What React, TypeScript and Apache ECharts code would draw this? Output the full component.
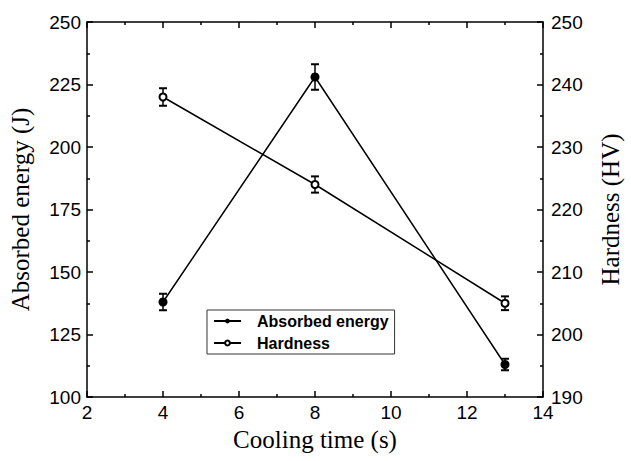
import React, { useEffect, useRef } from "react";
import * as echarts from "echarts";

const coolingTime = [4, 8, 13];
const absorbedEnergy = [138, 228, 113];
const absorbedErr = [3.3, 5.1, 2.3];
const hardness = [238, 224, 205];
const hardnessErr = [1.4, 1.3, 1.1];
const xTicks = { min: 2, max: 14, interval: 2 };
const yLeftTicks = { min: 100, max: 250, interval: 25 };
const yRightTicks = { min: 190, max: 250, interval: 10 };

const errorRender = (params: any, api: any) => {
  const x = api.value(0);
  const y = api.value(1);
  const e = api.value(2);
  const top = api.coord([x, y + e]);
  const bot = api.coord([x, y - e]);
  const w = 4;
  const st = { stroke: "#000", lineWidth: 1.5 };
  return {
    type: "group",
    children: [
      { type: "line", shape: { x1: top[0], y1: top[1], x2: bot[0], y2: bot[1] }, style: st },
      { type: "line", shape: { x1: top[0] - w, y1: top[1], x2: top[0] + w, y2: top[1] }, style: { stroke: "#000", lineWidth: 2 } },
      { type: "line", shape: { x1: bot[0] - w, y1: bot[1], x2: bot[0] + w, y2: bot[1] }, style: { stroke: "#000", lineWidth: 2 } },
    ],
  };
};

export default function App() {
  const ref = useRef<HTMLDivElement>(null);
  useEffect(() => {
    if (!ref.current) return;
    const chart = echarts.init(ref.current, null, { renderer: "svg" });
    const axisLine = { show: true, lineStyle: { color: "#000", width: 1.5 } };
    const tickLabel = { color: "#000", fontFamily: "Liberation Sans, Arial", fontSize: 19 };
    const nameStyle = { color: "#000", fontFamily: "Liberation Serif, Times New Roman", fontSize: 25 };
    const tick = { inside: true, length: 6, lineStyle: { color: "#000", width: 1.5 } };
    const minor = { show: true, splitNumber: 2, length: 3, lineStyle: { color: "#000", width: 1.5 } };
    chart.setOption({
      animation: false,
      backgroundColor: "#fff",
      grid: { left: 87, top: 22, right: 81, bottom: 64, containLabel: false },
      legend: {
        show: true,
        left: 207,
        top: 310,
        orient: "vertical",
        data: [{ name: "Absorbed energy" }, { name: "Hardness" }],
        borderColor: "#333",
        borderWidth: 1,
        borderRadius: 0,
        padding: [3, 6, 3, 6],
        itemGap: 6,
        itemWidth: 27,
        itemHeight: 6,
        textStyle: {
          color: "#000",
          fontFamily: "Liberation Sans, Arial",
          fontWeight: "bold",
          fontSize: 16,
          padding: [0, 0, 0, 11],
        },
        selectedMode: false,
      },
      xAxis: [
        {
          type: "value",
          min: xTicks.min,
          max: xTicks.max,
          interval: xTicks.interval,
          name: "Cooling time (s)",
          nameLocation: "middle",
          nameGap: 18,
          nameTextStyle: nameStyle,
          axisLine,
          axisTick: tick,
          minorTick: minor,
          axisLabel: { ...tickLabel, margin: 6 },
          splitLine: { show: false },
        },
        {
          type: "value",
          position: "top",
          min: xTicks.min,
          max: xTicks.max,
          interval: xTicks.interval,
          axisLine,
          axisTick: tick,
          minorTick: minor,
          axisLabel: { show: false },
          splitLine: { show: false },
        },
      ],
      yAxis: [
        {
          type: "value",
          min: yLeftTicks.min,
          max: yLeftTicks.max,
          interval: yLeftTicks.interval,
          name: "Absorbed energy (J)",
          nameLocation: "middle",
          nameGap: 54,
          nameTextStyle: nameStyle,
          axisLine,
          axisTick: tick,
          minorTick: minor,
          axisLabel: { ...tickLabel, margin: 6 },
          splitLine: { show: false },
        },
        {
          type: "value",
          position: "right",
          min: yRightTicks.min,
          max: yRightTicks.max,
          interval: yRightTicks.interval,
          name: "Hardness (HV)",
          nameLocation: "middle",
          nameGap: 55,
          nameTextStyle: nameStyle,
          axisLine,
          axisTick: tick,
          minorTick: minor,
          axisLabel: { ...tickLabel, margin: 8 },
          splitLine: { show: false },
        },
      ],
      series: [
        {
          name: "Absorbed energy",
          type: "line",
          xAxisIndex: 0,
          yAxisIndex: 0,
          data: coolingTime.map((x, i) => [x, absorbedEnergy[i]]),
          symbol: "circle",
          symbolSize: 9,
          itemStyle: { color: "#000" },
          lineStyle: { color: "#000", width: 1.5 },
          z: 3,
        },
        {
          name: "Hardness",
          type: "line",
          xAxisIndex: 0,
          yAxisIndex: 1,
          data: coolingTime.map((x, i) => [x, hardness[i]]),
          symbol: "emptyCircle",
          symbolSize: 7,
          itemStyle: { color: "#000", borderWidth: 1 },
          lineStyle: { color: "#000", width: 1.5 },
          z: 3,
        },
        {
          name: "absErr",
          type: "custom",
          xAxisIndex: 0,
          yAxisIndex: 0,
          renderItem: errorRender,
          encode: { x: 0, y: 1 },
          data: coolingTime.map((x, i) => [x, absorbedEnergy[i], absorbedErr[i]]),
          z: 2,
        },
        {
          name: "hardErr",
          type: "custom",
          xAxisIndex: 0,
          yAxisIndex: 1,
          renderItem: errorRender,
          encode: { x: 0, y: 1 },
          data: coolingTime.map((x, i) => [x, hardness[i], hardnessErr[i]]),
          z: 2,
        },
      ],
    });
    return () => chart.dispose();
  }, []);
  return <div ref={ref} style={{ width: 631, height: 461, position: "absolute", left: 0, top: 0 }} />;
}
